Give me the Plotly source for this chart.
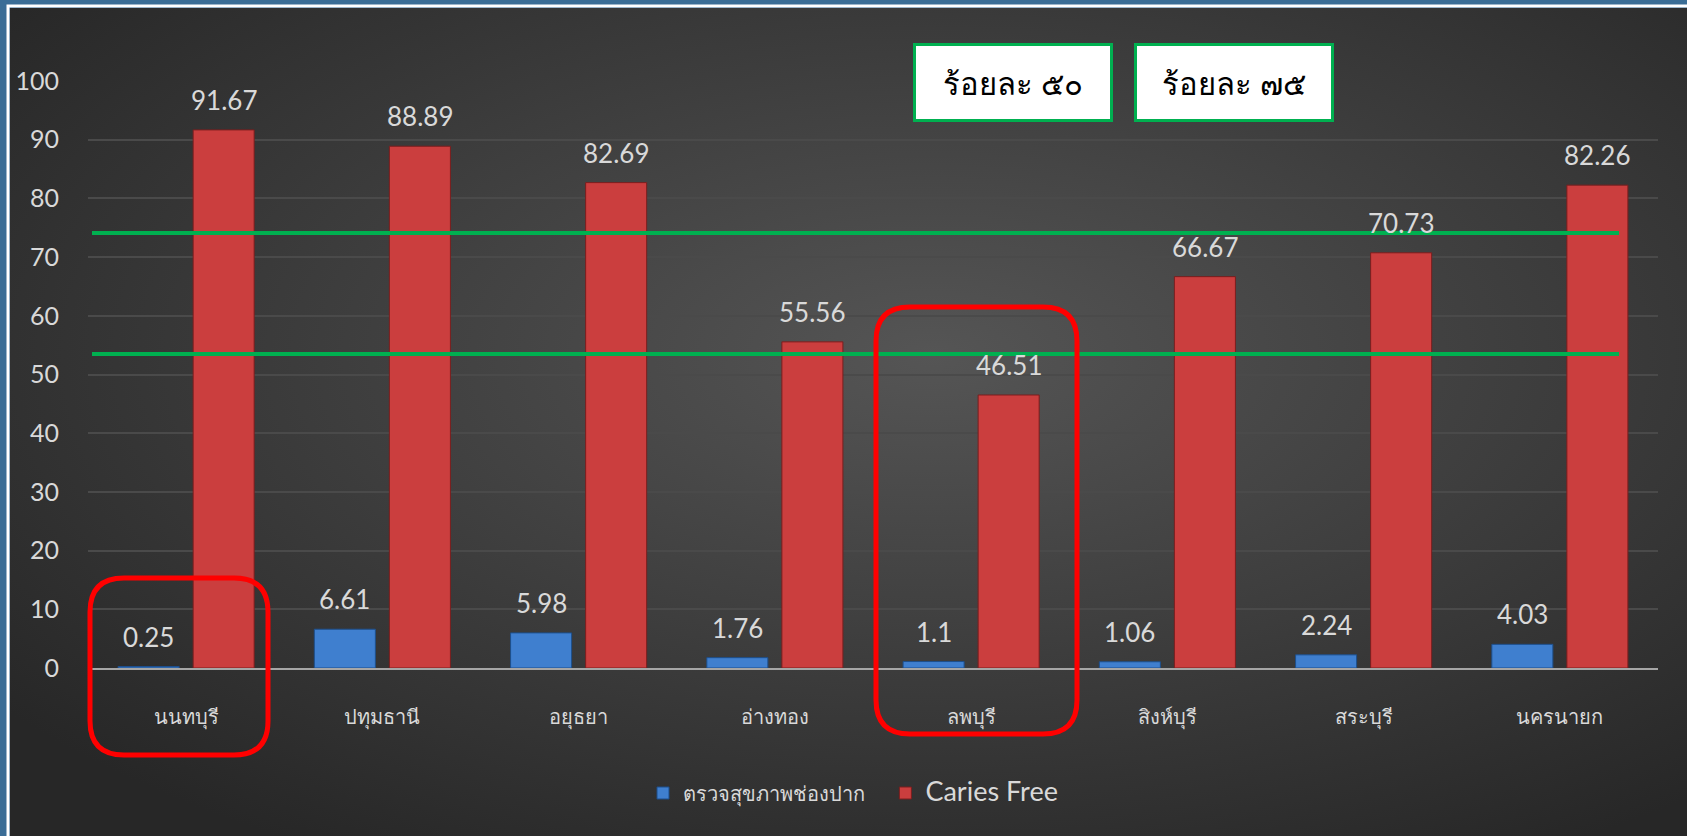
import base64
import plotly.graph_objects as go

# data
provinces = ["นนทบุรี", "ปทุมธานี", "อยุธยา", "อ่างทอง", "ลพบุรี", "สิงห์บุรี", "สระบุรี", "นครนายก"]
oral_check = [0.25, 6.61, 5.98, 1.76, 1.1, 1.06, 2.24, 4.03]
caries_free = [91.67, 88.89, 82.69, 55.56, 46.51, 66.67, 70.73, 82.26]
target_lines = [74.1, 53.5]
target_labels = ["ร้อยละ ๕๐", "ร้อยละ ๗๕"]

W, H = 1687, 836
ML, MR, MT, MB = 88, 29, 81, 168
PW, PH = W - ML - MR, H - MT - MB

TXT = "#d9d9d9"
FONT = "Lato, 'Noto Sans', sans-serif"


def px_x(x):
    return (x - ML) / PW


def px_y(y):
    return (H - MB - y) / PH


def round_rect(x0, y0, x1, y1, r):
    # rounded rectangle path in paper coords from pixel corners
    rx, ry = r / PW, r / PH
    a, b, c, d = px_x(x0), px_y(y1), px_x(x1), px_y(y0)
    return (
        f"M{a + rx},{b} L{c - rx},{b} Q{c},{b} {c},{b + ry} "
        f"L{c},{d - ry} Q{c},{d} {c - rx},{d} L{a + rx},{d} "
        f"Q{a},{d} {a},{d - ry} L{a},{b + ry} Q{a},{b} {a + rx},{b} Z"
    )


svg = (
    '<svg xmlns="http://www.w3.org/2000/svg" width="400" height="200" preserveAspectRatio="none">'
    '<defs><radialGradient id="g" cx="0.55" cy="0.42" r="0.7">'
    '<stop offset="0" stop-color="#555555"/><stop offset="1" stop-color="#272727"/>'
    '</radialGradient></defs><rect width="400" height="200" fill="url(#g)"/></svg>'
)
bg_src = "data:image/svg+xml;base64," + base64.b64encode(svg.encode()).decode()

fig = go.Figure()
fig.add_trace(go.Bar(
    x=provinces, y=oral_check, name="ตรวจสุขภาพช่องปาก   ",
    marker=dict(color="#3f7fcf", line=dict(color="#1d4f8c", width=1)),
))
fig.add_trace(go.Bar(
    x=provinces, y=caries_free,
    name='<span style="font-size:27px">Caries Free</span>',
    marker=dict(color="#cb3e3e", line=dict(color="#7a1e1e", width=1)),
))

# value labels above bars
for vals, shift in [(oral_check, -37.5), (caries_free, 37.5)]:
    for p, v in zip(provinces, vals):
        fig.add_annotation(
            x=p, y=v, text=f"{v:g}", showarrow=False, xshift=shift, yshift=30,
            yanchor="middle", font=dict(size=26, color=TXT, family=FONT),
        )

# target lines
for t in target_lines:
    fig.add_shape(
        type="line", xref="paper", yref="y", x0=px_x(92), x1=px_x(1619), y0=t, y1=t,
        line=dict(color="#00b050", width=4),
    )

# target label boxes
for lbl, cx in zip(target_labels, [1012.5, 1233.5]):
    fig.add_annotation(
        xref="paper", yref="paper", x=px_x(cx), y=px_y(82), text=lbl, showarrow=False,
        xanchor="center", yanchor="middle",
        width=192, height=71, bgcolor="white", bordercolor="#00b050", borderwidth=3,
        font=dict(size=31, color="black", family=FONT),
    )

# highlight boxes
for (x0, y0, x1, y1) in [(90, 578, 268, 755), (876, 307, 1077, 734)]:
    fig.add_shape(
        type="path", xref="paper", yref="paper", path=round_rect(x0, y0, x1, y1, 34),
        line=dict(color="#ff0000", width=5),
    )

# dark chart panel with gradient, framed in white on the slide background
fig.add_layout_image(
    source=bg_src, xref="paper", yref="paper", layer="below",
    x=px_x(10), y=px_y(8), sizex=(W - 10) / PW, sizey=(H - 8) / PH,
    sizing="stretch", xanchor="left", yanchor="top",
)
fig.add_shape(
    type="rect", xref="paper", yref="paper", layer="below",
    x0=px_x(8), x1=px_x(W + 5), y0=px_y(H + 5), y1=px_y(6),
    fillcolor="rgba(0,0,0,0)", line=dict(color="white", width=3),
)

fig.update_layout(
    width=W, height=H,
    margin=dict(l=ML, r=MR, t=MT, b=MB, autoexpand=False),
    paper_bgcolor="#3a6d96",
    plot_bgcolor="rgba(0,0,0,0)",
    barmode="group", bargap=0.235, bargroupgap=0.187,
    font=dict(family=FONT, color=TXT),
    showlegend=True,
    legend=dict(
        orientation="h", x=px_x(853), xanchor="center", y=px_y(793), yanchor="middle",
        font=dict(size=20, color=TXT), bgcolor="rgba(0,0,0,0)",
    ),
    xaxis=dict(
        automargin=False, tickfont=dict(size=20, color=TXT), ticklabelstandoff=30,
        showgrid=False, showline=True, linecolor="#a6a6a6", linewidth=2, zeroline=False,
    ),
    yaxis=dict(
        automargin=False, range=[0, 100], dtick=10, tickfont=dict(size=25, color=TXT),
        ticklabelstandoff=28,
        showgrid=True, gridcolor="#4a4a4a", gridwidth=1.5, zeroline=False, showline=False,
    ),
)

fig.write_html(
    "out.html",
    config={"displayModeBar": False},
    post_script="document.body.style.margin='0';",
)
